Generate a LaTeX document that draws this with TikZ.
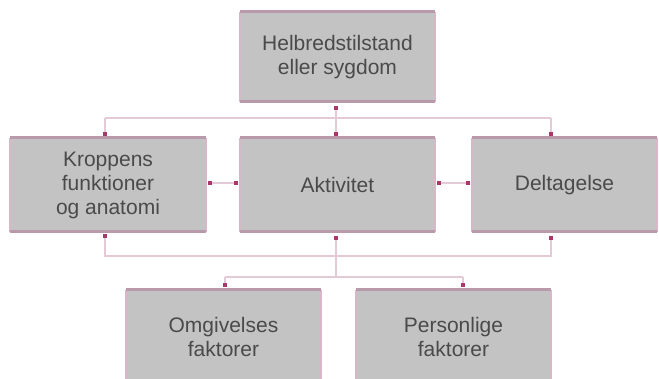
\documentclass[tikz,border=0pt]{standalone}
\usepackage{fontspec}
\setmainfont{Liberation Sans}
\usetikzlibrary{arrows.meta}
\definecolor{boxgray}{HTML}{C3C3C3}
\definecolor{sidepink}{HTML}{D8B8C8}
\definecolor{edgemauve}{HTML}{B89AAA}
\definecolor{connpink}{HTML}{E4CAD7}
\definecolor{mk}{HTML}{A8386A}
\definecolor{txt}{HTML}{4A4A4A}
\tikzset{
  box/.style={fill=boxgray, inner sep=0pt, outer sep=0pt, align=center,
    text=txt, font=\fontsize{21}{24}\selectfont},
  conn/.style={draw=connpink, line width=2pt},
  sq/.tip={Square[length=4pt,width=4pt,color=mk,fill=mk]},
  sqs/.style={shorten <=1.5pt},
  sqe/.style={shorten >=1.5pt}
}
\begin{document}
\begin{tikzpicture}[x=1pt,y=-1pt]
\useasboundingbox (0,0) rectangle (659,379);
\fill[white] (0,0) rectangle (659,379);
\clip (0,0) rectangle (659,379);
% boxes
\node[box, minimum width=195pt, minimum height=90pt] (top) at (337.5,57) {Helbredstilstand\\eller sygdom};
\node[box, minimum width=196pt, minimum height=94pt] (kf) at (108,185) {Kroppens\\funktioner\\og anatomi};
\node[box, minimum width=195pt, minimum height=94pt] (act) at (337.5,185) {Aktivitet};
\node[box, minimum width=185pt, minimum height=94pt] (del) at (564.5,185) {Deltagelse};
\node[box, minimum width=195pt, minimum height=94pt] (omg) at (223.5,337) {Omgivelses\\faktorer};
\node[box, minimum width=195pt, minimum height=94pt] (pers) at (453.5,337) {Personlige\\faktorer};
% borders
\foreach \b in {top,kf,act,del,omg,pers}{
  \draw[sidepink, line width=2.5pt] (\b.north west) -- (\b.south west);
  \draw[sidepink, line width=2.5pt] (\b.north east) -- (\b.south east);
  \draw[edgemauve, line width=3pt] (\b.north west) -- (\b.north east);
  \draw[edgemauve, line width=3pt] (\b.south west) -- (\b.south east);
}
% reference coordinates
\coordinate (xL) at (105,0);
\coordinate (xC) at (336,0);
\coordinate (xR) at (551,0);
\coordinate (xBL) at (225,0);
\coordinate (xBR) at (463,0);
\coordinate (j1) at (336,118);
\coordinate (j2) at (336,256);
\coordinate (j3) at (336,277);
% top connectors
\draw[conn, {sq}-{sq}, shorten <=4pt, shorten >=1.5pt] (top.south -| xC) -- (act.north -| xC);
\draw[conn] (j1 -| xL) -- (j1 -| xR);
\draw[conn, -{sq}, sqe] (j1 -| xL) -- (kf.north -| xL);
\draw[conn, -{sq}, sqe] (j1 -| xR) -- (del.north -| xR);
% horizontal connectors
\draw[conn, {sq}-{sq}, shorten <=2pt, shorten >=2pt] ([yshift=2pt]kf.east) -- ([yshift=2pt]act.west);
\draw[conn, {sq}-{sq}, shorten <=2pt, shorten >=2pt] ([yshift=2pt]act.east) -- ([yshift=2pt]del.west);
% lower connectors
\draw[conn, {sq}-{sq}, shorten <=2pt, shorten >=4pt] (kf.south -| xL) -- (j2 -| xL) -- (j2 -| xR) -- (del.south -| xR);
\draw[conn, {sq}-, shorten <=4pt] (act.south -| xC) -- (j3);
\draw[conn] (j3 -| xBL) -- (j3 -| xBR);
\draw[conn, -{sq}, shorten >=3pt] (j3 -| xBL) -- (omg.north -| xBL);
\draw[conn, -{sq}, shorten >=3pt] (j3 -| xBR) -- (pers.north -| xBR);
\end{tikzpicture}
\end{document}
